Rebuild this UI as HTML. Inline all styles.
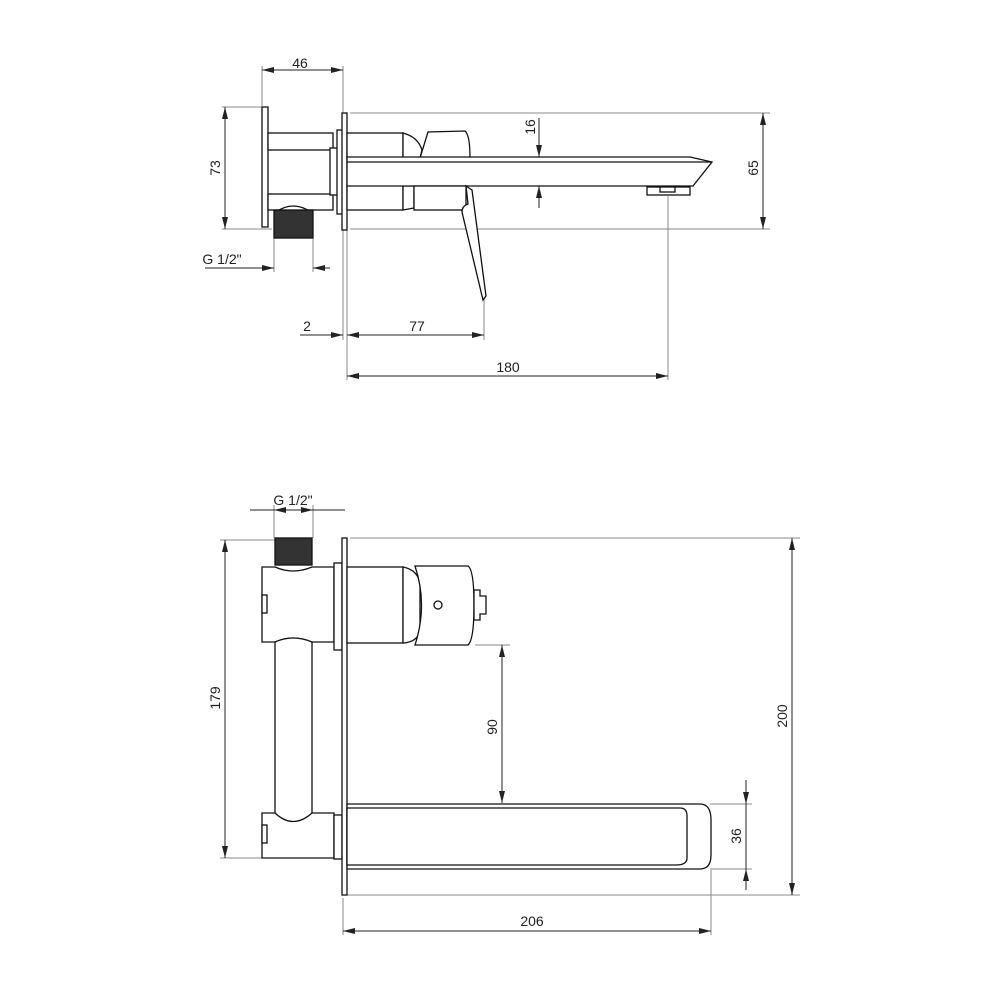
<!DOCTYPE html>
<html><head><meta charset="utf-8"><style>html,body{margin:0;padding:0;background:#fff}svg{display:block}</style></head><body>
<svg width="1000" height="1000" viewBox="0 0 1000 1000" xmlns="http://www.w3.org/2000/svg" font-family="Liberation Sans, sans-serif" font-size="14">
<defs>
<marker id="a" viewBox="0 0 12 6" refX="12" refY="3" markerWidth="12" markerHeight="6" orient="auto-start-reverse" markerUnits="userSpaceOnUse"><path d="M0,0 L12,3 L0,6z" fill="#222"/></marker>
</defs>
<g stroke="#888" stroke-width="1" fill="none">
<!-- top extension lines -->
<line x1="262" y1="66" x2="262" y2="106"/><line x1="343" y1="66" x2="343" y2="340"/>
<line x1="222" y1="107" x2="262" y2="107"/><line x1="222" y1="229" x2="272" y2="229"/>
<line x1="274" y1="238" x2="274" y2="272"/><line x1="313" y1="238" x2="313" y2="272"/>
<line x1="347" y1="230" x2="347" y2="380"/><line x1="484" y1="298" x2="484" y2="340"/>
<line x1="668" y1="196" x2="668" y2="380"/>
<line x1="350" y1="113" x2="770" y2="113"/><line x1="350" y1="229" x2="770" y2="229"/>
<!-- bottom extension -->
<line x1="274" y1="505" x2="274" y2="538"/><line x1="313" y1="505" x2="313" y2="538"/>
<line x1="220" y1="540" x2="275" y2="540"/><line x1="220" y1="858" x2="262" y2="858"/>
<line x1="350" y1="538" x2="800" y2="538"/><line x1="347" y1="895" x2="800" y2="895"/>
<line x1="475" y1="645" x2="510" y2="645"/>
<line x1="710" y1="804" x2="752" y2="804"/><line x1="710" y1="869" x2="752" y2="869"/>
<line x1="343" y1="898" x2="343" y2="935"/><line x1="711" y1="870" x2="711" y2="935"/>
</g>
<g stroke="#222" stroke-width="1" fill="none">
<!-- dimension lines -->
<line x1="262" y1="70" x2="343" y2="70" marker-start="url(#a)" marker-end="url(#a)"/>
<line x1="225" y1="107" x2="225" y2="229" marker-start="url(#a)" marker-end="url(#a)"/>
<line x1="205" y1="268" x2="274" y2="268" marker-end="url(#a)"/><line x1="330" y1="268" x2="313" y2="268" marker-end="url(#a)"/>
<line x1="300" y1="335" x2="343" y2="335" marker-end="url(#a)"/>
<line x1="347" y1="335" x2="484" y2="335" marker-start="url(#a)" marker-end="url(#a)"/>
<line x1="347" y1="376" x2="668" y2="376" marker-start="url(#a)" marker-end="url(#a)"/>
<line x1="539" y1="118" x2="539" y2="157" marker-end="url(#a)"/><line x1="539" y1="208" x2="539" y2="186" marker-end="url(#a)"/>
<line x1="539" y1="157" x2="539" y2="186"/>
<line x1="763" y1="113" x2="763" y2="229" marker-start="url(#a)" marker-end="url(#a)"/>
<line x1="250" y1="510" x2="345" y2="510"/>
<line x1="274" y1="510" x2="286" y2="510" marker-start="url(#a)"/><line x1="301" y1="510" x2="313" y2="510" marker-end="url(#a)"/>
<line x1="225" y1="540" x2="225" y2="858" marker-start="url(#a)" marker-end="url(#a)"/>
<line x1="792" y1="538" x2="792" y2="895" marker-start="url(#a)" marker-end="url(#a)"/>
<line x1="502" y1="645" x2="502" y2="803" marker-start="url(#a)" marker-end="url(#a)"/>
<line x1="746" y1="780" x2="746" y2="804" marker-end="url(#a)"/><line x1="746" y1="890" x2="746" y2="869" marker-end="url(#a)"/>
<line x1="746" y1="804" x2="746" y2="869"/>
<line x1="343" y1="931" x2="711" y2="931" marker-start="url(#a)" marker-end="url(#a)"/>
</g>
<g fill="#222">
<text x="300" y="68" text-anchor="middle">46</text>
<text x="222" y="264" text-anchor="middle">G 1/2"</text>
<text x="307" y="331" text-anchor="middle">2</text>
<text x="417" y="331" text-anchor="middle">77</text>
<text x="508" y="372" text-anchor="middle">180</text>
<text transform="translate(220,168) rotate(-90)" text-anchor="middle">73</text>
<text transform="translate(535,127) rotate(-90)" text-anchor="middle">16</text>
<text transform="translate(758,168) rotate(-90)" text-anchor="middle">65</text>
<text x="293" y="505" text-anchor="middle">G 1/2"</text>
<text transform="translate(220,698) rotate(-90)" text-anchor="middle">179</text>
<text transform="translate(787,716) rotate(-90)" text-anchor="middle">200</text>
<text transform="translate(497,727) rotate(-90)" text-anchor="middle">90</text>
<text transform="translate(741,836) rotate(-90)" text-anchor="middle">36</text>
<text x="532" y="926" text-anchor="middle">206</text>
</g>
<!-- TOP VIEW -->
<g stroke="#111" stroke-width="1.3" fill="#fff">
<rect x="262" y="107" width="6" height="120"/>
<rect x="268" y="133" width="65" height="17"/>
<rect x="268" y="194" width="65" height="16"/>
<rect x="330" y="148" width="10" height="47"/>
<rect x="337" y="130" width="6" height="84"/>
<rect x="342" y="113" width="5" height="117"/>
<path d="M276,212 Q293,200 311,212Z"/>
<rect x="274" y="210" width="39" height="28" fill="#333"/>
<rect x="347" y="133" width="56" height="25"/>
<rect x="347" y="185" width="56" height="25"/>
<path d="M403,133 Q418,137 422,150 L420,158 L403,158Z"/>
<path d="M403,186 L414,186 L414,208 L403,210Z"/>
<path d="M420,158 L428,132 L465,131 Q470,135 470,158Z"/>
<path d="M347,157 L690,157 L712,162 L693,186 L347,186Z"/>
<line x1="347" y1="162" x2="712" y2="162"/>
<rect x="647" y="187" width="43" height="8"/>
<rect x="660" y="187" width="15" height="5"/>
<rect x="414" y="186" width="52" height="24"/>
<path d="M466,186 L472,190 L486,296 L483,300 L462,212 Q462,206 468,204Z"/>
</g>
<!-- BOTTOM VIEW -->
<g stroke="#111" stroke-width="1.3" fill="#fff">
<rect x="275" y="538" width="37" height="27" fill="#333"/>
<path d="M262,567 L275,567 Q293,575 312,567 L334,567 L334,642 L312,642 Q293,634 275,642 L262,642Z"/>
<rect x="262" y="595" width="5" height="18"/>
<path d="M275,642 Q293,634 312,642 L312,815 Q293,830 275,815Z"/>
<path d="M262,813 L275,813 Q293,830 312,813 L334,813 L334,858 L262,858Z"/>
<rect x="262" y="825" width="5" height="18"/>
<rect x="334" y="815" width="8" height="44"/>
<rect x="334" y="563" width="8" height="87"/>
<rect x="342" y="538" width="5" height="357"/>
<rect x="347" y="567" width="56" height="76"/>
<path d="M403,567 Q418,570 420,584 L420,630 Q418,642 403,643Z"/>
<path d="M415,566 L468,566 Q474,570 474,605 Q474,640 468,645 L415,645 Q428,605 415,566Z"/>
<path d="M474,590 L480,590 L480,596 L486,596 L486,614 L480,614 L480,620 L474,620Z"/>
<circle cx="438" cy="605" r="4"/>
<path d="M347,804 L700,804 Q711,804 711,820 L711,855 Q711,869 700,869 L347,869Z"/>
<path d="M347,808 L680,808 Q687,808 687,816 L687,858 Q687,865 676,865 L347,865Z"/>
</g>
</svg>
</body></html>
